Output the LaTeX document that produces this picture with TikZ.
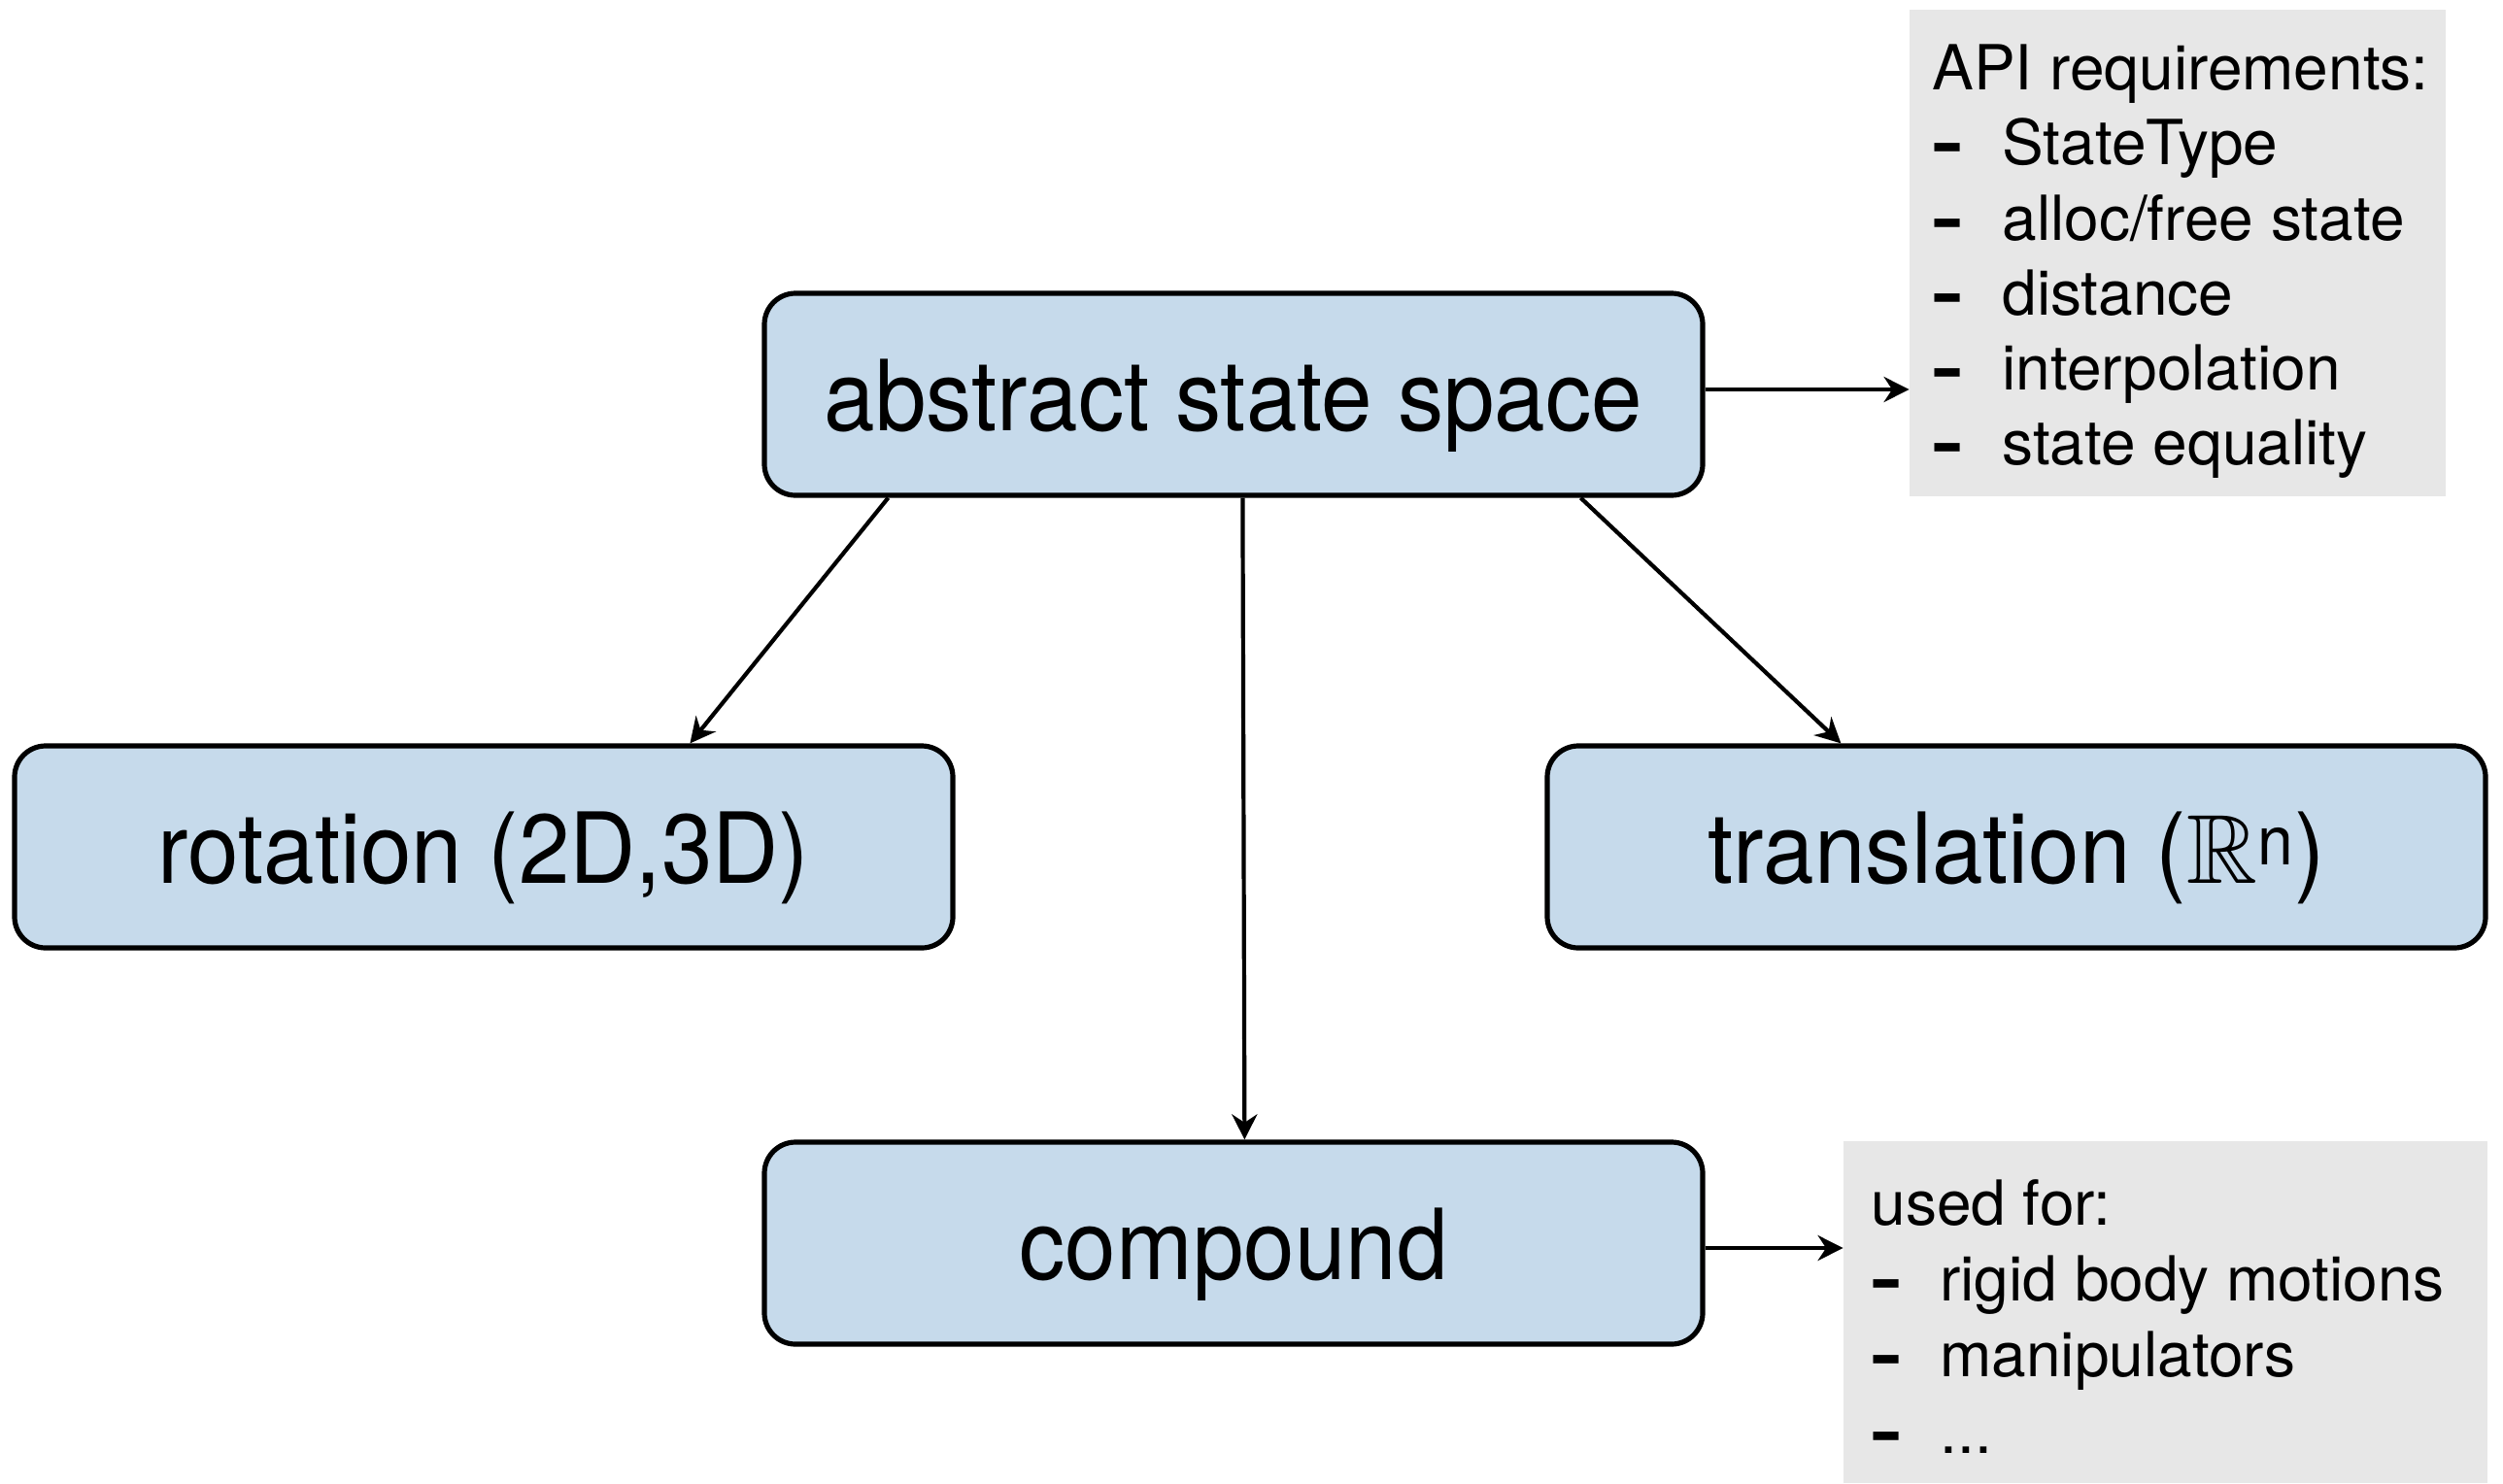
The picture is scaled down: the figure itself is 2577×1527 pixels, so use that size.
\documentclass[tikz,border=0pt]{standalone}
\usepackage{amssymb}
\usepackage{fontspec}
\setmainfont{TeX Gyre Heros}
\newfontfamily\labelfont[FakeStretch=0.935]{TeX Gyre Heros}
\usetikzlibrary{arrows.meta,calc}
\definecolor{boxblue}{HTML}{C6DAEB}
\definecolor{notegray}{HTML}{E7E7E7}
\newcommand{\itemdash}{\scalebox{1.5}[1]{\bfseries -}}
\tikzset{
  spacebox/.style={draw=black, line width=2.6pt, fill=boxblue, rounded corners=16pt,
    minimum width=483pt, minimum height=104pt, inner sep=0pt,
    font=\labelfont\fontsize{50.5}{60}\selectfont, text height=37pt, text depth=0pt},
  notebox/.style={fill=notegray, inner sep=0pt},
  notetext/.style={anchor=base west, inner sep=0pt, font=\fontsize{32}{38}\selectfont},
  arr/.style={line width=2.1pt, -{Stealth[length=13pt,width=13pt]}}
}
\begin{document}
\begin{tikzpicture}[x=0.5pt,y=-0.5pt]
\useasboundingbox[fill=white] (0,0) rectangle (2577,1527);

% gray note panels
\node[notebox, minimum width=276pt, minimum height=250.5pt] (api) at (2242,260.5) {};
\node[notebox, minimum width=331.5pt, minimum height=176pt] (used) at (2229.5,1351) {};

% state space boxes
\node[spacebox] (abs) at (1270,406) {abstract state space};
\node[spacebox] (rot) at (498,872) {rotation (2D,3D)};
\node[spacebox] (tr) at (2076,872) {translation (\(\mathbb{R}\)\textsuperscript{n})};
\node[spacebox] (comp) at (1270,1280) {compound};

% API requirements list
\node[notetext] (apih) at (1989,92) {API requirements:};
\node[notetext] (d1) at (1989,169) {\itemdash};
\node[notetext] (t1) at (2061,169) {StateType};
\node[notetext] (d2) at (1989,247) {\itemdash};
\node[notetext] (t2) at (2061,247) {alloc/free state};
\node[notetext] (d3) at (1989,324) {\itemdash};
\node[notetext] (t3) at (2061,324) {distance};
\node[notetext] (d4) at (1989,401) {\itemdash};
\node[notetext] (t4) at (2061,401) {interpolation};
\node[notetext] (d5) at (1989,478) {\itemdash};
\node[notetext] (t5) at (2061,478) {state equality};

% compound usage list
\node[notetext] (usedh) at (1926,1261) {used for:};
\node[notetext] (e1) at (1926,1339) {\itemdash};
\node[notetext] (u1) at (1997,1339) {rigid body motions};
\node[notetext] (e2) at (1926,1417) {\itemdash};
\node[notetext] (u2) at (1997,1417) {manipulators};
\node[notetext] (e3) at (1926,1496) {\itemdash};
\node[notetext] (u3) at (1997,1496) {...};

% connectors
\draw[arr] ([yshift=2.5pt]abs.east) -- ([yshift=2.5pt]abs.east -| api.west);
\draw[arr] ([yshift=-2.5pt]comp.east) -- ([yshift=-2.5pt]comp.east -| used.west);
\draw[arr] ([xshift=65pt]abs.south west) -- ([xshift=349pt]rot.north west);
\draw[arr] ([xshift=247.5pt]abs.south west) -- ([xshift=248.5pt]comp.north west);
\draw[arr] ([xshift=421.5pt]abs.south west) -- ([xshift=152.5pt]tr.north west);
\end{tikzpicture}
\end{document}
